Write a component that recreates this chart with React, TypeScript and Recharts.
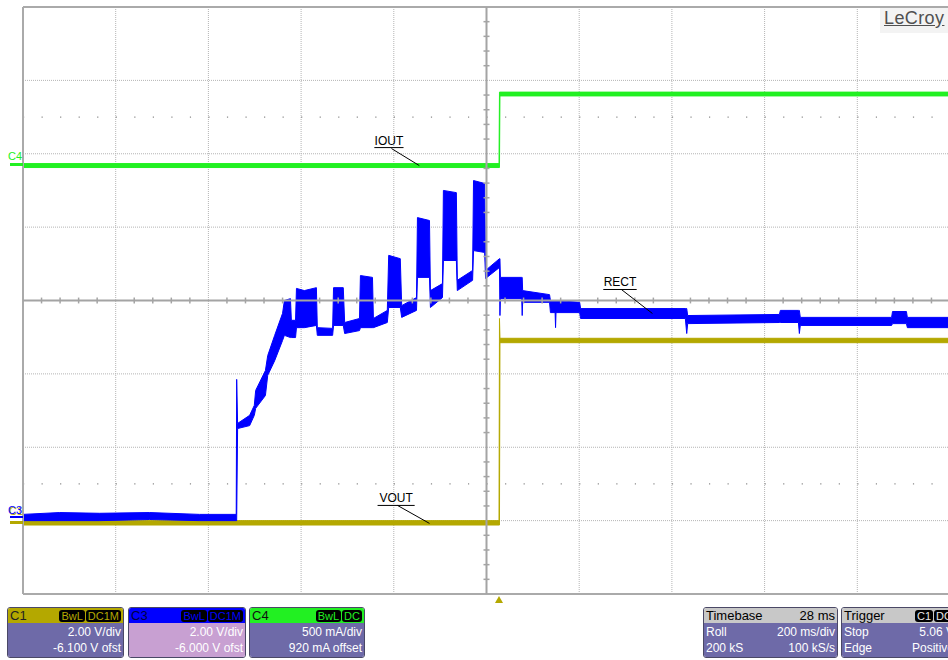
import React from "react";
import {
  Area,
  CartesianGrid,
  ComposedChart,
  ReferenceLine,
  XAxis,
  YAxis,
} from "recharts";

// LeCroy capture, roll mode 200 ms/div, 28 ms delay -> time in ms vs trigger.
// C1 = VOUT (2 V/div, -6.1 V ofst), C3 = RECT (2 V/div, -6 V ofst),
// C4 = IOUT (500 mA/div, 920 mA ofst). Traces are drawn as min/max bands.

const FONT = "'Liberation Sans', Arial, sans-serif";
const YEL = "#b4a800";
const BLUE = "#0000ff";
const GREEN = "#22f022";
const PANEL = "#6e6aa8";

const timeDivs = [-1028, -828, -628, -428, -228, -28, 172, 372, 572, 772, 972];
const screenDivs = [-4, -3, -2, -1, 0, 1, 2, 3, 4];

// C3 RECT (V)
const rectT = [
  -1028, -949, -863, -755, -647, -568, -567, -565, -539, -529, -526, -505,
  -500, -485, -468, -464, -451, -449, -440, -438, -421, -395, -393, -360,
  -358, -337, -334, -302, -300, -274, -272, -242, -239, -214, -211, -179,
  -177, -151, -149, -123, -121, -93, -91, -58, -56, -32, -30, 0,
  1, 2, 48, 49, 50, 108, 110, 120, 121, 122, 173, 175,
  401, 404, 406, 604, 606, 645, 647, 649, 846, 848, 878, 880, 971,
];
const rectLo = [
  0.0, 0.0, 0.0, 0.03, 0.0, 0.0, 0.0, 2.51, 2.59, 2.87, 3.06, 3.41,
  3.96, 4.36, 4.91, 5.05, 4.99, 4.99, 4.99, 5.26, 5.26, 5.32, 5.05, 5.05,
  5.32, 5.32, 5.1, 5.18, 5.26, 5.26, 5.26, 5.4, 5.81, 5.81, 5.54, 5.73,
  6.63, 6.63, 5.81, 6.08, 7.09, 7.09, 6.27, 6.55, 7.36, 7.31, 6.6, 6.9,
  5.59, 6.05, 6.05, 5.59, 5.95, 5.95, 5.67, 5.67, 5.26, 5.67, 5.67, 5.51,
  5.51, 5.1, 5.37, 5.4, 5.4, 5.4, 5.1, 5.32, 5.32, 5.37, 5.37, 5.26, 5.26,
];
const rectHi = [
  0.17, 0.22, 0.2, 0.22, 0.17, 0.17, 3.85, 2.65, 2.87, 3.14, 3.55, 4.09,
  4.5, 5.05, 5.65, 6.0, 6.05, 5.46, 5.46, 6.33, 6.27, 6.35, 5.26, 5.24,
  6.35, 6.35, 5.4, 5.51, 6.68, 6.63, 5.51, 5.73, 7.23, 7.14, 5.86, 6.08,
  8.26, 8.18, 6.27, 6.46, 9.0, 8.94, 6.55, 6.82, 9.27, 9.19, 6.82, 7.14,
  7.14, 6.63, 6.63, 6.63, 6.27, 6.16, 6.0, 6.0, 6.0, 6.0, 5.95, 5.78,
  5.78, 5.78, 5.59, 5.62, 5.73, 5.73, 5.73, 5.54, 5.54, 5.7, 5.7, 5.54, 5.54,
];

// C1 VOUT (V)
const voutT = [-1028, -1, 0, 1, 972];
const voutLo = [-0.02, -0.02, -0.02, 4.95, 4.95];
const voutHi = [0.1, 0.1, 5.61, 5.07, 5.07];

// C4 IOUT (A)
const ioutT = [-1028, -1, 0, 1, 972];
const ioutLo = [-0.014, -0.014, -0.014, 0.474, 0.474];
const ioutHi = [0.013, 0.013, 0.5, 0.5, 0.5];

const rectData = rectT.map((t, i) => ({ t, lo: rectLo[i], hi: rectHi[i] }));
const voutData = voutT.map((t, i) => ({ t, lo: voutLo[i], hi: voutHi[i] }));
const ioutData = ioutT.map((t, i) => ({ t, lo: ioutLo[i], hi: ioutHi[i] }));

// minor graticule marks on the centre cross (1/5 div)
const minorT = timeDivs.slice(0, -1).flatMap((t) => [t + 40, t + 80, t + 120, t + 160]);
const minorD = screenDivs.slice(0, -1).flatMap((d) => [d + 0.2, d + 0.4, d + 0.6, d + 0.8]);

const band = (d: { lo: number; hi: number }) => [d.lo, d.hi];

const labelStyle = { fontFamily: FONT, fontSize: 12, fill: "#000" };

function Badge({ text, color }: { text: string; color: string }) {
  return (
    <span
      style={{
        background: "#000",
        color,
        borderRadius: 3,
        padding: "0 2px",
        marginLeft: 1,
        fontSize: 11,
        lineHeight: "12px",
        display: "inline-block",
      }}
    >
      {text}
    </span>
  );
}

function InfoBox(props: {
  left: number;
  width: number;
  head: string;
  headRight?: React.ReactNode;
  headBg: string;
  headColor: string;
  bodyBg: string;
  rows: [string, string][];
}) {
  const { left, width, head, headRight, headBg, headColor, bodyBg, rows } = props;
  return (
    <div
      style={{
        position: "absolute",
        left,
        top: 607,
        width,
        height: 51,
        boxSizing: "border-box",
        border: "1px solid #4a4866",
        borderRadius: 3,
        overflow: "hidden",
        fontFamily: FONT,
        fontSize: 12,
      }}
    >
      <div
        style={{
          height: 15,
          background: headBg,
          color: headColor,
          display: "flex",
          justifyContent: "space-between",
          alignItems: "center",
          padding: "0 2px",
          fontSize: 13,
        }}
      >
        <span>{head}</span>
        <span style={{ whiteSpace: "nowrap" }}>{headRight}</span>
      </div>
      <div style={{ background: bodyBg, height: 36, color: "#fff", padding: "1px 2px 0 2px" }}>
        {rows.map(([l, r], i) => (
          <div
            key={i}
            style={{ display: "flex", justifyContent: "space-between", lineHeight: "16px", whiteSpace: "nowrap" }}
          >
            <span>{l}</span>
            <span>{r}</span>
          </div>
        ))}
      </div>
    </div>
  );
}

export default function App() {
  return (
    <div
      style={{
        position: "absolute",
        left: 0,
        top: 0,
        width: 948,
        height: 660,
        overflow: "hidden",
        background: "#fff",
        fontFamily: FONT,
      }}
    >
      <ComposedChart width={952} height={660} margin={{ top: 7, right: 2, bottom: 66, left: 23 }}>
        <XAxis dataKey="t" type="number" domain={[-1028, 972]} ticks={timeDivs} allowDataOverflow hide />
        <YAxis yAxisId="div" type="number" domain={[-4, 4]} ticks={screenDivs} allowDataOverflow hide />
        <YAxis yAxisId="c1" type="number" domain={[-1.9, 14.1]} allowDataOverflow hide />
        <YAxis yAxisId="c3" type="number" domain={[-2, 14]} allowDataOverflow hide />
        <YAxis yAxisId="c4" type="number" domain={[-2.92, 1.08]} allowDataOverflow hide />

        <CartesianGrid yAxisId="div" stroke="#b4b4b4" strokeDasharray="1 1" />
        <ReferenceLine yAxisId="div" y={2.5} stroke="#8a8a8a" strokeWidth={1.2} strokeDasharray="1.2 17.34" />
        <ReferenceLine yAxisId="div" y={-2.5} stroke="#8a8a8a" strokeWidth={1.2} strokeDasharray="1.2 17.34" />

        {/* border + centre cross */}
        <ReferenceLine yAxisId="div" y={4} stroke="#aaa" strokeWidth={2} />
        <ReferenceLine yAxisId="div" y={-4} stroke="#aaa" strokeWidth={2} />
        <ReferenceLine yAxisId="div" x={-1028} stroke="#aaa" strokeWidth={2} />
        <ReferenceLine yAxisId="div" y={0} stroke="#a4a4a4" strokeWidth={2} />
        <ReferenceLine yAxisId="div" x={-28} stroke="#a4a4a4" strokeWidth={2} />
        {minorT.map((t) => (
          <ReferenceLine
            key={"mt" + t}
            yAxisId="div"
            segment={[{ x: t, y: -0.04 }, { x: t, y: 0.04 }]}
            stroke="#a4a4a4"
            strokeWidth={1.5}
          />
        ))}
        {minorD.map((d) => (
          <ReferenceLine
            key={"md" + d}
            yAxisId="div"
            segment={[{ x: -34.5, y: d }, { x: -21.5, y: d }]}
            stroke="#a4a4a4"
            strokeWidth={1.5}
          />
        ))}

        <Area
          data={ioutData}
          yAxisId="c4"
          dataKey={band}
          type="linear"
          stroke={GREEN}
          strokeWidth={1}
          fill={GREEN}
          fillOpacity={1}
          dot={false}
          activeDot={false}
          isAnimationActive={false}
        />
        <Area
          data={voutData}
          yAxisId="c1"
          dataKey={band}
          type="linear"
          stroke={YEL}
          strokeWidth={1}
          fill={YEL}
          fillOpacity={1}
          dot={false}
          activeDot={false}
          isAnimationActive={false}
        />
        <Area
          data={rectData}
          yAxisId="c3"
          dataKey={band}
          type="linear"
          stroke={BLUE}
          strokeWidth={1}
          fill={BLUE}
          fillOpacity={1}
          dot={false}
          activeDot={false}
          isAnimationActive={false}
        />

        {/* trace annotations */}
        <ReferenceLine
          yAxisId="div"
          segment={[{ x: -270, y: 2.084 }, { x: -207, y: 2.084 }]}
          stroke="#000"
          label={{ value: "IOUT", position: "top", offset: 3, ...labelStyle }}
        />
        <ReferenceLine yAxisId="div" segment={[{ x: -233, y: 2.071 }, { x: -173, y: 1.839 }]} stroke="#000" />
        <ReferenceLine
          yAxisId="div"
          segment={[{ x: -263, y: -2.793 }, { x: -183, y: -2.793 }]}
          stroke="#000"
          label={{ value: "VOUT", position: "top", offset: 3, ...labelStyle }}
        />
        <ReferenceLine yAxisId="div" segment={[{ x: -220, y: -2.793 }, { x: -151, y: -3.038 }]} stroke="#000" />
        <ReferenceLine
          yAxisId="div"
          segment={[{ x: 224, y: 0.15 }, { x: 296, y: 0.15 }]}
          stroke="#000"
          label={{ value: "RECT", position: "top", offset: 3, ...labelStyle }}
        />
        <ReferenceLine yAxisId="div" segment={[{ x: 263, y: 0.15 }, { x: 330, y: -0.177 }]} stroke="#000" />
      </ComposedChart>

      {/* channel markers on the left edge */}
      <div style={{ position: "absolute", left: 8, top: 150, fontSize: 11, color: GREEN }}>C4</div>
      <div style={{ position: "absolute", left: 10, top: 163, width: 13, height: 3, background: GREEN }} />
      <div style={{ position: "absolute", left: 9, top: 505, fontSize: 11, color: YEL }}>C1</div>
      <div style={{ position: "absolute", left: 8, top: 504, fontSize: 11, color: BLUE }}>C3</div>
      <div style={{ position: "absolute", left: 10, top: 516, width: 13, height: 2, background: BLUE }} />
      <div style={{ position: "absolute", left: 10, top: 521, width: 13, height: 3, background: YEL }} />

      {/* trigger position marker */}
      <div
        style={{
          position: "absolute",
          left: 495,
          top: 596,
          width: 0,
          height: 0,
          borderLeft: "4px solid transparent",
          borderRight: "4px solid transparent",
          borderBottom: `7px solid ${YEL}`,
        }}
      />

      {/* logo */}
      <div style={{ position: "absolute", left: 880, top: 8, width: 68, height: 25, background: "#f3f3f3" }} />
      <div
        style={{
          position: "absolute",
          left: 884,
          top: 8,
          fontSize: 18,
          color: "#505050",
          textDecoration: "underline",
          letterSpacing: 0.4,
        }}
      >
        LeCroy
      </div>

      <InfoBox
        left={7}
        width={117}
        head="C1"
        headRight={
          <>
            <Badge text="BwL" color={YEL} />
            <Badge text="DC1M" color={YEL} />
          </>
        }
        headBg={YEL}
        headColor="#222"
        bodyBg={PANEL}
        rows={[
          ["", "2.00 V/div"],
          ["", "-6.100 V ofst"],
        ]}
      />
      <InfoBox
        left={128}
        width={118}
        head="C3"
        headRight={
          <>
            <Badge text="BwL" color={BLUE} />
            <Badge text="DC1M" color={BLUE} />
          </>
        }
        headBg={BLUE}
        headColor="#000040"
        bodyBg="#c8a0d2"
        rows={[
          ["", "2.00 V/div"],
          ["", "-6.000 V ofst"],
        ]}
      />
      <InfoBox
        left={249}
        width={116}
        head="C4"
        headRight={
          <>
            <Badge text="BwL" color={GREEN} />
            <Badge text="DC" color={GREEN} />
          </>
        }
        headBg={GREEN}
        headColor="#111"
        bodyBg={PANEL}
        rows={[
          ["", "500 mA/div"],
          ["", "920 mA offset"],
        ]}
      />
      <InfoBox
        left={703}
        width={135}
        head="Timebase"
        headRight="28 ms"
        headBg="#c8c8c8"
        headColor="#000"
        bodyBg={PANEL}
        rows={[
          ["Roll", "200 ms/div"],
          ["200 kS", "100 kS/s"],
        ]}
      />
      <InfoBox
        left={841}
        width={116}
        head="Trigger"
        headRight={
          <>
            <Badge text="C1" color="#e8e8e8" />
            <Badge text="DC" color="#e8e8e8" />
          </>
        }
        headBg="#c8c8c8"
        headColor="#000"
        bodyBg={PANEL}
        rows={[
          ["Stop", "5.06 V"],
          ["Edge", "Positive"],
        ]}
      />
    </div>
  );
}
